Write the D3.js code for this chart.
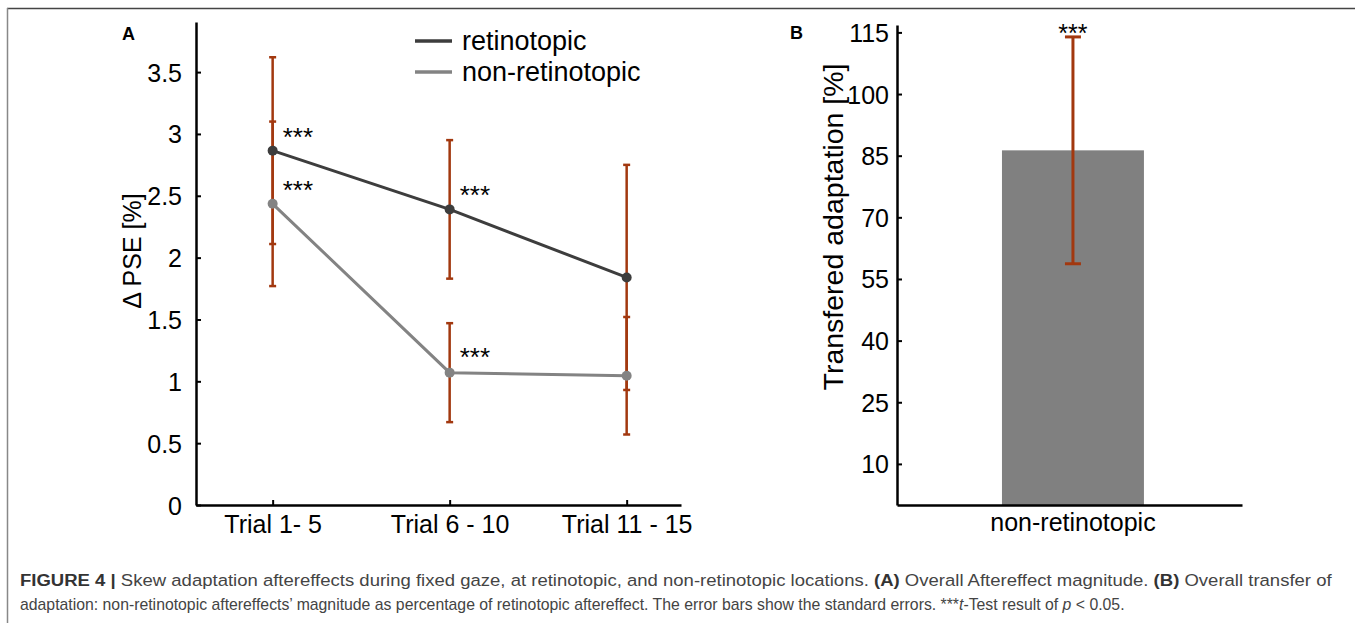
<!DOCTYPE html>
<html><head><meta charset="utf-8">
<script src="https://cdn.jsdelivr.net/npm/d3@7"></script>
<style>
body{margin:0;background:#fff;}
svg{display:block;font-family:"Liberation Sans",Arial,sans-serif;}
</style></head>
<body><svg id="c" width="1355" height="623"></svg>
<script>
// ---- data ----
const trials = ["Trial 1- 5", "Trial 6 - 10", "Trial 11 - 15"];
const seriesNames = ["retinotopic", "non-retinotopic"];
const retinotopic = [2.865, 2.39, 1.84];
const retinotopicErr = [0.755, 0.56, 0.91];
const nonRetinotopic = [2.435, 1.07, 1.045];
const nonRetinotopicErr = [0.665, 0.40, 0.475];
const yTicksA = [0, 0.5, 1, 1.5, 2, 2.5, 3, 3.5];
const starsA = [{s:0,i:0},{s:1,i:0},{s:0,i:1},{s:1,i:1}];

const barCategory = ["non-retinotopic"];
const barValue = [86.3];
const barErr = [27.6];
const yTicksB = [10, 25, 40, 55, 70, 85, 100, 115];

const errColor = "#a2380f";
const lineColors = ["#3d3d3d", "#838383"];

const svg = d3.select("#c");

// frame lines
svg.append("line").attr("x1",7).attr("x2",1355).attr("y1",8.5).attr("y2",8.5).attr("stroke","#444").attr("stroke-width",1.5);
svg.append("line").attr("x1",7.5).attr("x2",7.5).attr("y1",8).attr("y2",623).attr("stroke","#888").attr("stroke-width",1.5);

// ---- Panel A ----
const A = {left:196, right:681, top:22, bottom:505};
const xA = d3.scaleLinear().domain([0.567, 3.307]).range([A.left, A.right]);
const yA = d3.scaleLinear().domain([0, 3.905]).range([A.bottom, A.top]);
const gA = svg.append("g");

const axYA = gA.append("g").attr("transform",`translate(${A.left},0)`)
  .call(d3.axisLeft(yA).tickValues(yTicksA).tickSizeInner(-5).tickSizeOuter(0).tickPadding(14).tickFormat(d=>d3.format("")(d)));
const axXA = gA.append("g").attr("transform",`translate(0,${A.bottom})`)
  .call(d3.axisBottom(xA).tickValues([1,2,3]).tickSizeInner(-5).tickSizeOuter(0).tickPadding(10).tickFormat(d=>trials[d-1]));
[axYA, axXA].forEach(ax=>{
  ax.select(".domain").attr("stroke","#000").attr("stroke-width",2.5);
  ax.selectAll(".tick line").attr("stroke","#000").attr("stroke-width",2);
  ax.selectAll("text").attr("fill","#000").style("font-size","25px").style("font-family","Liberation Sans, Arial, sans-serif");
});
axYA.selectAll("text").attr("dy","0.36em");
axXA.selectAll("text").attr("dy","0.72em");

const seriesVals = [retinotopic, nonRetinotopic];
const seriesErr = [retinotopicErr, nonRetinotopicErr];

// lines
const line = d3.line().x((d,i)=>xA(i+1)).y(d=>yA(d));
seriesVals.forEach((vals,s)=>{
  gA.append("path").datum(vals).attr("d",line).attr("fill","none")
    .attr("stroke",lineColors[s]).attr("stroke-width",3);
});
// error bars (drawn above lines)
seriesVals.forEach((vals,s)=>{
  vals.forEach((v,i)=>{
    const x = xA(i+1), e = seriesErr[s][i];
    gA.append("line").attr("x1",x).attr("x2",x).attr("y1",yA(v+e)).attr("y2",yA(v-e))
      .attr("stroke",errColor).attr("stroke-width",2.5);
    [v+e, v-e].forEach(c=>{
      gA.append("line").attr("x1",x-3.5).attr("x2",x+3.5).attr("y1",yA(c)).attr("y2",yA(c))
        .attr("stroke",errColor).attr("stroke-width",2.5);
    });
  });
});
// markers
seriesVals.forEach((vals,s)=>{
  gA.selectAll(null).data(vals).enter().append("circle")
    .attr("cx",(d,i)=>xA(i+1)).attr("cy",d=>yA(d)).attr("r",5).attr("fill",lineColors[s]);
});
// stars
gA.selectAll(null).data(starsA).enter().append("text")
  .attr("x",d=>xA(d.i+1)+10).attr("y",d=>yA(seriesVals[d.s][d.i])+ (d.s===1&&d.i===1?-7:-5))
  .style("font-size","26px").attr("fill","#000").text("***");

// legend
seriesNames.forEach((n,s)=>{
  const y = 41 + s*31;
  gA.append("line").attr("x1",415).attr("x2",452).attr("y1",y).attr("y2",y).attr("stroke",lineColors[s]).attr("stroke-width",3.5);
  gA.append("text").attr("x",462).attr("y",y+9).style("font-size","27px").attr("fill","#000").text(n);
});

// labels
gA.append("text").attr("x",122).attr("y",40).style("font-size","18px").style("font-weight","bold").text("A");
gA.append("text").attr("transform",`translate(141,251) rotate(-90)`).attr("text-anchor","middle")
  .style("font-size","25px").attr("fill","#000").text("\u0394 PSE [%]");

// ---- Panel B ----
const B = {left:897, right:1242, top:25, bottom:505};
const xB = d3.scaleBand().domain(barCategory).range([B.left, B.right]).paddingInner(0).paddingOuter(0.715).align(0.517);
const yB = d3.scaleLinear().domain([0, 116.8]).range([B.bottom, B.top]);
const gB = svg.append("g");

// bar
gB.selectAll(null).data(barValue).enter().append("rect")
  .attr("x",(d,i)=>xB(barCategory[i])).attr("width",xB.bandwidth())
  .attr("y",d=>yB(d)).attr("height",d=>yB(0)-yB(d)).attr("fill","#808080");

const axYB = gB.append("g").attr("transform",`translate(${B.left},0)`)
  .call(d3.axisLeft(yB).tickValues(yTicksB).tickSizeInner(-5).tickSizeOuter(0).tickPadding(8));
const axXB = gB.append("g").attr("transform",`translate(0,${B.bottom})`)
  .call(d3.axisBottom(xB).tickSize(0).tickPadding(8));
[axYB, axXB].forEach(ax=>{
  ax.select(".domain").attr("stroke","#000").attr("stroke-width",2.5);
  ax.selectAll(".tick line").attr("stroke","#000").attr("stroke-width",2);
  ax.selectAll("text").attr("fill","#000").style("font-size","25px").style("font-family","Liberation Sans, Arial, sans-serif");
});
axYB.selectAll("text").attr("dy","0.36em");
axXB.selectAll("text").attr("dy","0.72em");

// error bar B
barValue.forEach((v,i)=>{
  const x = xB(barCategory[i]) + xB.bandwidth()/2, e = barErr[i];
  gB.append("line").attr("x1",x).attr("x2",x).attr("y1",yB(v+e)).attr("y2",yB(v-e)).attr("stroke",errColor).attr("stroke-width",3);
  [v+e, v-e].forEach(c=>{
    gB.append("line").attr("x1",x-8).attr("x2",x+8).attr("y1",yB(c)).attr("y2",yB(c)).attr("stroke",errColor).attr("stroke-width",3);
  });
  gB.append("text").attr("x",x).attr("y",yB(v+e)+5).attr("text-anchor","middle").style("font-size","25px").text("***");
});

gB.append("text").attr("x",790).attr("y",39).style("font-size","18px").style("font-weight","bold").text("B");
gB.append("text").attr("transform",`translate(843,227) rotate(-90)`).attr("text-anchor","middle")
  .style("font-size","28.5px").attr("fill","#000").text("Transfered adaptation [%]");

// ---- caption (horizontally condensed to match the narrow caption face) ----
const cap = svg.append("g").style("font-size","17px").attr("fill","#444");
function fitLine(y, target, parts){
  const t = cap.append("text").attr("x",0).attr("y",0);
  parts.forEach(p=>{
    const ts = t.append("tspan").text(p.t);
    if(p.b) ts.style("font-weight","bold").attr("fill","#333");
    if(p.i) ts.style("font-style","italic");
  });
  const w = t.node().getComputedTextLength();
  t.attr("transform",`translate(20,${y}) scale(${target/w},1)`);
}
fitLine(586, 1313, [
  {t:"FIGURE 4 | ", b:true},
  {t:"Skew adaptation aftereffects during fixed gaze, at retinotopic, and non-retinotopic locations. "},
  {t:"(A)", b:true},
  {t:" Overall Aftereffect magnitude. "},
  {t:"(B)", b:true},
  {t:" Overall transfer of"}
]);
fitLine(610, 1105, [
  {t:"adaptation: non-retinotopic aftereffects\u2019 magnitude as percentage of retinotopic aftereffect. The error bars show the standard errors. ***"},
  {t:"t", i:true},
  {t:"-Test result of "},
  {t:"p", i:true},
  {t:" < 0.05."}
]);
</script></body></html>
